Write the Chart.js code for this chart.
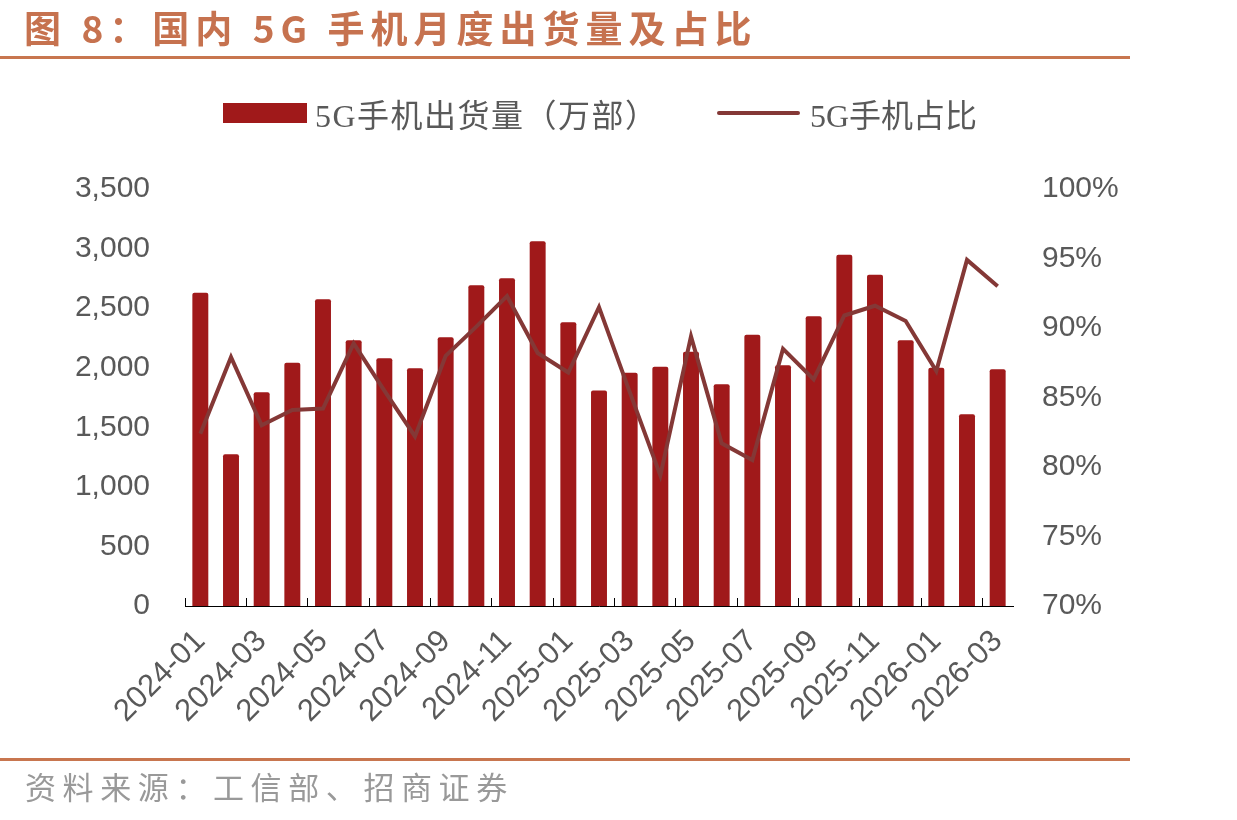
<!DOCTYPE html>
<html>
<head>
<meta charset="utf-8">
<script src="https://cdn.jsdelivr.net/npm/chart.js@4.4.1/dist/chart.umd.min.js"></script>
<style>
  html, body { margin: 0; padding: 0; background: #fff; }
  #page { position: relative; width: 1237px; height: 820px; overflow: hidden; }
  #wrap { position: absolute; left: 0; top: 0; width: 1237px; height: 820px; }
  .title {
    position: absolute; left: 24px; top: 4px; margin: 0;
    font: bold 37px "Noto Sans CJK SC", sans-serif; letter-spacing: 6px;
    color: #c6724f; line-height: 46px; white-space: nowrap;
  }
  .rule { position: absolute; left: 0; width: 1130px; height: 3px; background: #c8764f; }
  .legend { position: absolute; top: 91px; height: 44px; display: flex; align-items: center;
    font: 32px "Liberation Serif", "Noto Sans CJK SC", serif; color: #595959; white-space: nowrap; }
  .swatch-bar { width: 84px; height: 20px; background: #a0191a; margin-right: 8px; }
  .swatch-line { width: 83px; height: 4px; border-radius: 2px; background: #843836; margin-right: 10px; }
  .source {
    position: absolute; left: 25px; top: 765px; margin: 0;
    font: 31px "Noto Sans CJK SC", sans-serif; letter-spacing: 6.6px;
    color: #999; line-height: 42px; white-space: nowrap;
  }
</style>
</head>
<body>
<div id="page">
  <div id="wrap"><canvas id="chart"></canvas></div>
  <div class="title">图 8：国内 5G 手机月度出货量及占比</div>
  <div class="rule" style="top:56px"></div>
  <div class="legend" style="left:223px"><span class="swatch-bar"></span><span style="letter-spacing:1.5px">5G手机出货量（万部）</span></div>
  <div class="legend" style="left:717px"><span class="swatch-line"></span>5G手机占比</div>
  <div class="rule" style="top:758px"></div>
  <div class="source">资料来源：工信部、招商证券</div>
</div>
<script>
const months = [
  "2024-01", "2024-02", "2024-03", "2024-04", "2024-05", "2024-06",
  "2024-07", "2024-08", "2024-09", "2024-10", "2024-11", "2024-12",
  "2025-01", "2025-02", "2025-03", "2025-04", "2025-05", "2025-06",
  "2025-07", "2025-08", "2025-09", "2025-10", "2025-11", "2025-12",
  "2026-01", "2026-02", "2026-03",
];
// 5G手机出货量（万部）
const shipments = [
  2630, 1273, 1794, 2042, 2574, 2230, 2079, 1995, 2255, 2692, 2751, 3061,
  2381, 1808, 1958, 2009, 2135, 1861, 2277, 2020, 2431, 2949, 2781, 2230,
  2000, 1609, 1987,
];
// 5G手机占比（%）
const share = [
  82.4, 87.9, 83.0, 84.1, 84.2, 88.9, 85.5, 82.2, 88.0, 90.1, 92.3, 88.2,
  86.8, 91.5, 85.4, 79.4, 89.4, 81.7, 80.5, 88.5, 86.3, 90.9, 91.6, 90.5,
  86.9, 94.9, 93.0,
];

const tickFont = { family: "'Liberation Sans', Arial, sans-serif", size: 30 };
const gray = "#595959";

let ctx = document.getElementById("chart").getContext("2d");

let chart = new Chart(ctx, {
  type: "bar",
  data: {
    labels: months,
    datasets: [
      {
        label: "5G手机出货量（万部）",
        data: shipments,
        backgroundColor: "#a0191a",
        borderRadius: 2,
        barPercentage: 0.52,
        categoryPercentage: 1,
        yAxisID: "y",
        order: 1,
      },
      {
        type: "line",
        label: "5G手机占比",
        data: share,
        borderColor: "#843836",
        borderWidth: 4,
        pointRadius: 0,
        tension: 0,
        yAxisID: "y1",
        order: 0,
      },
    ],
  },
  options: {
    responsive: true,
    maintainAspectRatio: false,
    animation: false,
    layout: { padding: { top: 189, left: 0, right: 0, bottom: 0 } },
    plugins: { legend: { display: false }, tooltip: { enabled: false } },
    scales: {
      x: {
        offset: true,
        afterFit: (s) => { s.height = 214; },
        border: { color: "#000", width: 1 },
        grid: {
          offset: true,
          drawOnChartArea: false,
          tickLength: -8,
          color: (c) => (c.index % 2 === 0 ? "#000" : "rgba(0,0,0,0)"),
        },
        ticks: {
          autoSkip: false,
          minRotation: 45,
          maxRotation: 45,
          padding: 25,
          color: gray,
          font: { family: tickFont.family, size: 31 },
          callback: (v, i) => (i % 2 === 0 ? months[i] : ""),
        },
      },
      y: {
        position: "left",
        min: 0,
        max: 3500,
        afterFit: (s) => { s.width = 185; },
        border: { display: false },
        grid: { display: false, drawTicks: false },
        ticks: {
          stepSize: 500,
          padding: 35,
          color: gray,
          font: tickFont,
          callback: (v) => v.toLocaleString("en-US"),
        },
      },
      y1: {
        position: "right",
        min: 70,
        max: 100,
        afterFit: (s) => { s.width = 224; },
        border: { display: false },
        grid: { display: false, drawTicks: false },
        ticks: {
          stepSize: 5,
          padding: 29,
          color: gray,
          font: tickFont,
          callback: (v) => v + "%",
        },
      },
    },
  },
});
</script>
</body>
</html>
